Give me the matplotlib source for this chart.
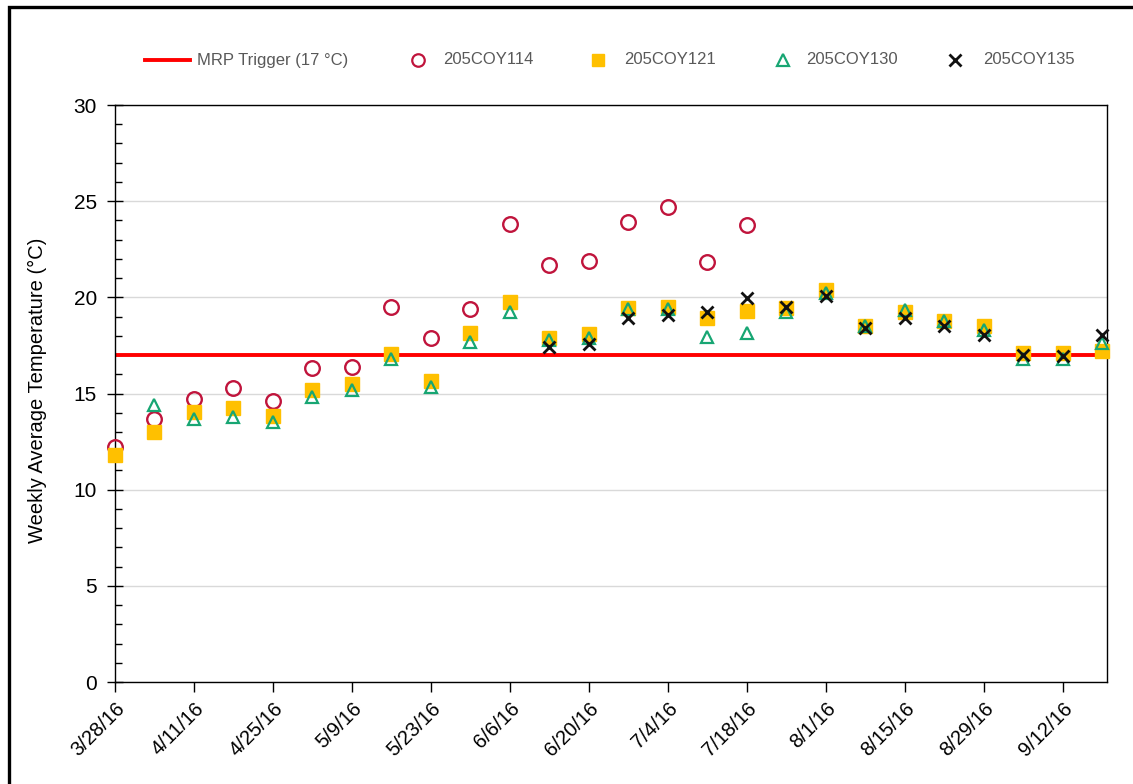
import matplotlib
matplotlib.use('Agg')
import numpy as np
import pandas as pd
import matplotlib.pyplot as plt
import matplotlib.dates as mdates
from matplotlib.lines import Line2D
from matplotlib.patches import Rectangle

plt.rcParams['font.family'] = ['Liberation Sans', 'DejaVu Sans']

# weekly sample dates
weeks = ['2016-03-28', '2016-04-04', '2016-04-11', '2016-04-18', '2016-04-25',
         '2016-05-02', '2016-05-09', '2016-05-16', '2016-05-23', '2016-05-30',
         '2016-06-06', '2016-06-13', '2016-06-20', '2016-06-27', '2016-07-04',
         '2016-07-11', '2016-07-18', '2016-07-25', '2016-08-01', '2016-08-08',
         '2016-08-15', '2016-08-22', '2016-08-29', '2016-09-05', '2016-09-12',
         '2016-09-19']
nan = np.nan
coy114 = [12.2, 13.7, 14.7, 15.3, 14.6, 16.35, 16.4, 19.5, 17.9, 19.4,
          23.8, 21.7, 21.9, 23.9, 24.7, 21.85, 23.75, nan, nan, nan,
          nan, nan, nan, nan, nan, nan]
coy121 = [11.8, 13.0, 14.05, 14.25, 13.85, 15.2, 15.5, 17.05, 15.65, 18.15,
          19.75, 17.9, 18.1, 19.45, 19.5, 18.9, 19.3, 19.45, 20.4, 18.5,
          19.25, 18.75, 18.5, 17.1, 17.1, 17.2]
coy130 = [nan, 14.4, 13.65, 13.8, 13.5, 14.8, 15.2, 16.8, 15.35, 17.7,
          19.25, 17.8, 17.9, 19.4, 19.4, 17.95, 18.15, 19.25, 20.2, 18.5,
          19.35, 18.75, 18.3, 16.8, 16.8, 17.6]
coy135 = [nan, nan, nan, nan, nan, nan, nan, nan, nan, nan,
          nan, 17.4, 17.55, 18.9, 19.1, 19.25, 19.95, 19.5, 20.05, 18.4,
          18.9, 18.5, 18.05, 17.0, 16.95, 18.05]
trigger = 17
tick_dates = ['2016-03-28', '2016-04-11', '2016-04-25', '2016-05-09', '2016-05-23',
              '2016-06-06', '2016-06-20', '2016-07-04', '2016-07-18', '2016-08-01',
              '2016-08-15', '2016-08-29', '2016-09-12']
tick_labels = ['3/28/16', '4/11/16', '4/25/16', '5/9/16', '5/23/16', '6/6/16',
               '6/20/16', '7/4/16', '7/18/16', '8/1/16', '8/15/16', '8/29/16',
               '9/12/16']
labels = ['MRP Trigger (17 °C)', '205COY114', '205COY121', '205COY130', '205COY135']

x = mdates.date2num(pd.to_datetime(weeks))
xt = mdates.date2num(pd.to_datetime(tick_dates))

W, H = 1133, 784
def fx(px):
    return px / W
def fy(py):
    return 1 - py / H

fig = plt.figure(figsize=(W / 100, H / 100), dpi=100)
fig.patches.append(Rectangle((fx(9), -0.1), 1.2, 1.1 - 7 / H,
                             transform=fig.transFigure, fill=False,
                             edgecolor='black', linewidth=2.4))
ax = fig.add_axes([fx(115), fy(682), 992 / W, 577 / H])

red, crimson, gold, green, black = '#ff0000', '#c0143c', '#ffc000', '#17a673', '#111111'

ax.axhline(trigger, color=red, linewidth=2.8, zorder=2)
kw = dict(linestyle='none', clip_on=False, zorder=3)
ax.plot(x, coy114, marker='o', markersize=10.5, markerfacecolor='none',
        markeredgecolor=crimson, markeredgewidth=1.7, **kw)
ax.plot(x, coy121, marker='s', markersize=9.5, markerfacecolor=gold,
        markeredgecolor=gold, **kw)
ax.plot(x, coy130, marker='^', markersize=9, markerfacecolor='none',
        markeredgecolor=green, markeredgewidth=1.6, **kw)
ax.plot(x, coy135, marker='x', markersize=8.5, color=black,
        markeredgewidth=2, **kw)

ax.set_ylim(0, 30)
ax.set_xlim(x[0], x[0] + 175.8)
ax.set_yticks(np.arange(0, 31, 5))
ax.set_yticks(np.arange(0, 31, 1), minor=True)
ax.set_xticks(xt)
ax.set_xticklabels(tick_labels, rotation=45, ha='right', rotation_mode='anchor')
ax.tick_params(axis='y', which='major', direction='inout', length=12,
               width=1, labelsize=15, pad=7)
ax.tick_params(axis='y', which='minor', direction='in', length=5, width=1)
ax.tick_params(axis='x', which='major', direction='out', length=7, width=1,
               labelsize=14.5, pad=5)
ax.grid(axis='y', color='#d9d9d9', linewidth=1)
ax.set_axisbelow(True)
for s in ax.spines.values():
    s.set_linewidth(1)
ax.set_ylabel('Weekly Average Temperature (°C)', fontsize=14.5)
ax.yaxis.set_label_coords(fx(47), fy(390), transform=fig.transFigure)

# legend drawn across the top, entry by entry
ly = fy(60)
fig.add_artist(Line2D([fx(145), fx(190)], [ly, ly], color=red, linewidth=2.8,
                      transform=fig.transFigure))
fig.add_artist(Line2D([fx(418)], [ly], marker='o', markersize=9, markerfacecolor='none',
                      markeredgecolor=crimson, markeredgewidth=1.6, transform=fig.transFigure))
fig.add_artist(Line2D([fx(598)], [ly], marker='s', markersize=9, markerfacecolor=gold,
                      markeredgecolor=gold, transform=fig.transFigure))
fig.add_artist(Line2D([fx(783)], [ly], marker='^', markersize=8, markerfacecolor='none',
                      markeredgecolor=green, markeredgewidth=1.6, transform=fig.transFigure))
fig.add_artist(Line2D([fx(955)], [ly], marker='x', markersize=8, color=black,
                      markeredgewidth=2, transform=fig.transFigure))
for lab, tx in zip(labels, [197, 443, 624, 806, 983]):
    fig.text(fx(tx), ly, lab, fontsize=12, color='#595959', va='center', ha='left')

fig.savefig('out.png', dpi=100)
